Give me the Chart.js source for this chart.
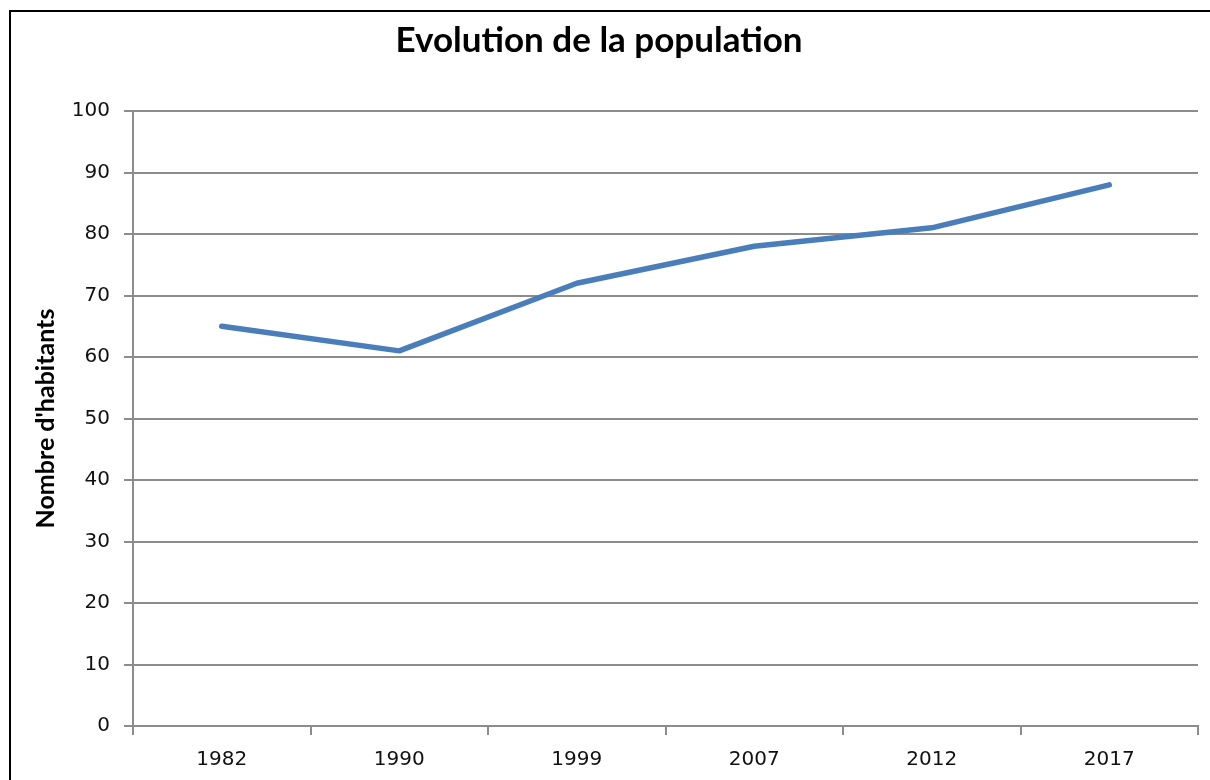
<!DOCTYPE html>
<html>
<head>
<meta charset="utf-8">
<script src="https://cdn.jsdelivr.net/npm/chart.js@4/dist/chart.umd.min.js"></script>
<style>
  html, body { margin: 0; padding: 0; background: #fff; }
  #wrap { position: relative; width: 1210px; height: 780px; }
  #frame { position: absolute; left: 9px; top: 10px; right: 0; bottom: 0;
           border-left: 2px solid #000; border-top: 2px solid #000; pointer-events: none; }
</style>
</head>
<body>
<div id="wrap">
  <canvas id="chart" width="1210" height="780"></canvas>
  <div id="frame"></div>
</div>
<script>
// Values
const years = ["1982", "1990", "1999", "2007", "2012", "2017"]
const habitants = [65, 61, 72, 78, 81, 88]
const yMin = 0
const yMax = 100
const yStep = 10

const gridGray = "#8c8c8c"
const tickFont = { family: "DejaVu Sans", size: 20 }

new Chart(document.getElementById("chart"), {
  type: "line",
  data: {
    labels: years,
    datasets: [{
      label: "Nombre d'habitants",
      data: habitants,
      borderColor: "#4a7ebb",
      backgroundColor: "#4a7ebb",
      borderWidth: 5.5,
      borderCapStyle: "round",
      borderJoinStyle: "round",
      pointRadius: 0,
      tension: 0,
    }],
  },
  options: {
    responsive: false,
    animation: false,
    layout: { padding: { left: 0, right: 12, top: 0, bottom: 0 } },
    plugins: {
      legend: { display: false },
      tooltip: { enabled: false },
      title: {
        display: true,
        text: "Evolution de la population",
        color: "#000",
        font: { family: "Lato", size: 35, weight: "bold" },
        padding: { top: 20, bottom: 49 },
      },
    },
    scales: {
      x: {
        offset: true,
        grid: { offset: true, drawOnChartArea: false, drawTicks: true, tickLength: 9, color: gridGray, lineWidth: 2 },
        border: { display: true, color: gridGray, width: 2 },
        ticks: { color: "#111", font: tickFont, padding: 13, maxRotation: 0 },
        afterFit: (s) => { s.height = 54 },
      },
      y: {
        min: yMin,
        max: yMax,
        ticks: { stepSize: yStep, color: "#111", font: tickFont, padding: 14 },
        grid: { color: gridGray, lineWidth: 2, drawTicks: true, tickLength: 9 },
        border: { display: true, color: gridGray, width: 2 },
        title: {
          display: true,
          text: "Nombre d'habitants",
          color: "#000",
          font: { family: "Lato", size: 25, weight: "bold" },
          padding: { top: 31, bottom: 0 },
        },
        afterFit: (s) => { s.width = 133 },
      },
    },
  },
})
</script>
</body>
</html>
